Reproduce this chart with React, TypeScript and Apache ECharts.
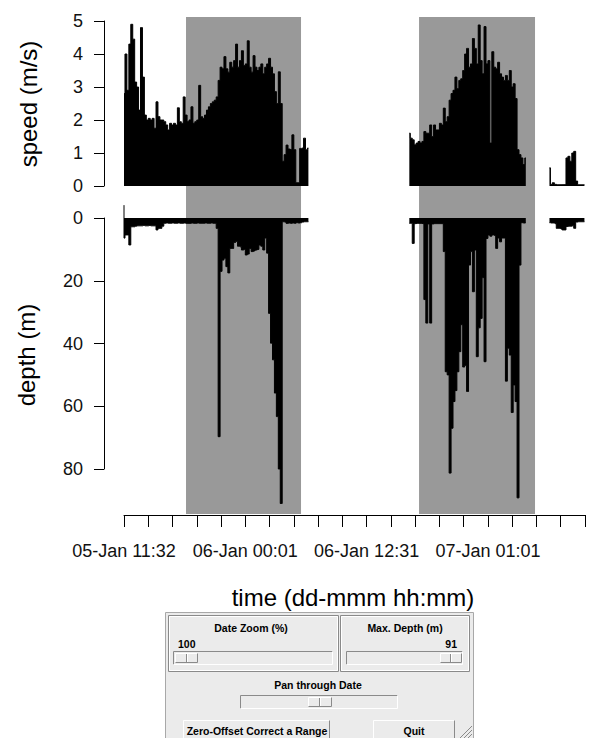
import React, { useEffect, useRef } from 'react';
import * as echarts from 'echarts';

// ---------- data ----------
const TIME_LABELS = ['05-Jan 11:32', '06-Jan 00:01', '06-Jan 12:31', '07-Jan 01:01'];
const TICK_STEP_HOURS = 2.5;
const TICK_COUNT = 20;
const LABEL_EVERY = 5;

const SAMPLE_STEP_HOURS = 0.2;
const SEGMENT_START_HOURS = [0, 29.4, 43.84];
const NIGHT_BANDS = [
  [6.39, 18.24],
  [30.4, 42.35],
];

const SPEED_SEG1 = [
  2.8, 4.0, 2.9, 4.3, 4.9, 4.45, 3.15, 3.0, 2.3, 4.8,
  3.3, 2.15, 2.0, 2.05, 2.0, 2.05, 1.75, 2.55, 2.1, 2.0,
  2.0, 1.95, 1.85, 1.7, 1.9, 1.85, 1.9, 1.85, 2.37, 1.95,
  1.9, 2.7, 2.15, 1.95, 2.0, 2.4, 1.9, 1.95, 2.0, 3.05,
  2.1, 2.05, 2.15, 2.3, 2.4, 2.5, 2.55, 2.6, 2.7, 3.2,
  3.6, 3.55, 3.92, 3.55, 3.45, 3.75, 3.6, 3.8, 4.3, 3.6,
  3.8, 4.1, 3.65, 3.7, 4.4, 3.6, 3.45, 3.95, 3.6, 3.5,
  3.6, 3.7, 3.4, 3.6, 3.7, 3.87, 3.6, 3.4, 2.86, 2.5,
  3.46, 2.5, 0.75, 0.95, 1.24, 1.12, 1.1, 1.55, 1.1, 0.1,
  0.1, 1.14, 1.15, 1.45, 1.1, 1.15,
];
const SPEED_SEG2 = [
  1.6, 1.45, 1.4, 1.25, 1.3, 1.35, 1.3, 1.35, 1.65, 1.6,
  1.6, 1.85, 1.5, 1.85, 1.7, 1.7, 1.9, 1.85, 2.36, 1.95,
  2.1, 2.6, 2.8, 2.9, 3.3, 2.95, 3.2, 3.25, 3.5, 4.0,
  4.17, 3.6, 3.7, 4.47, 4.17, 3.7, 4.88, 3.8, 3.4, 4.83,
  3.7, 3.8, 1.3, 4.07, 3.6, 3.55, 3.75, 3.4, 3.3, 3.2,
  3.35, 3.2, 3.5, 3.0, 3.1, 2.65, 1.1, 0.95, 0.85, 0.65,
  0.85,
];
const SPEED_SEG3 = [
  0.55, 0.05, 0.1, 0.05, 0.04, 0.04, 0.04, 0.04, 0.04, 0.85,
  0.9, 0.75, 1.0, 1.05, 0.15, 0.04, 0.04, 0.04, 0.04,
];

const DEPTH_SEG1 = [
  6.4, 5.4, 5.4, 8.6, 2.8, 2.8, 2.6, 2.5, 2.5, 2.5,
  2.4, 2.5, 2.5, 2.4, 2.5, 2.5, 2.5, 3.8, 3.3, 3.3,
  2.6, 1.7, 1.6, 1.7, 1.7, 1.6, 1.7, 1.7, 1.6, 1.7,
  1.7, 1.6, 1.7, 1.7, 1.7, 1.6, 1.7, 1.7, 1.6, 1.7,
  1.7, 1.7, 1.6, 1.7, 1.7, 1.6, 1.7, 1.7, 3.3, 69.7,
  17.0, 13.4, 12.8, 15.5, 17.5, 9.7, 9.7, 7.8, 7.5, 9.0,
  9.2, 10.2, 10.0, 11.8, 11.5, 9.7, 10.7, 10.5, 10.2, 10.0,
  8.6, 9.0, 10.2, 6.4, 11.2, 30.4, 39.9, 45.2, 55.8, 63.3,
  80.0, 91.0, 1.2, 1.3, 1.7, 1.6, 1.7, 1.6, 1.7, 1.5,
  1.6, 1.5, 1.3, 1.2, 1.2, 1.2,
];
const DEPTH_SEG2 = [
  1.7, 1.7, 8.1, 1.8, 1.7, 1.7, 1.7, 1.8, 26, 33.5,
  1.9, 33.5, 1.9, 1.8, 1.8, 1.8, 1.8, 1.8, 10.7, 49,
  50, 81.3, 67, 58.5, 55, 49, 42.6, 34, 47.5, 47,
  55.3, 15, 10.7, 23.5, 10.2, 44.2, 35, 32, 19, 45.8,
  6.5, 5.4, 5.8, 5.4, 5.6, 9.7, 6.4, 7.6, 6.4, 6.4,
  52, 41.5, 43.7, 62, 53.2, 58.5, 89.2, 15, 1.5, 1.6,
  1.5,
];
const DEPTH_SEG3 = [
  1.5, 1.6, 1.6, 1.8, 3.3, 3.3, 3.5, 3.8, 3.8, 2.7,
  2.6, 2.6, 2.5, 3.3, 1.3, 1.2, 1.2, 1.2, 1.2,
];
// the record's first reading lies above the surface (negative depth)
const DEPTH_ABOVE_SURFACE = -4.1;

const SPEED_AXIS = { min: 0, max: 5, step: 1 };
const DEPTH_AXIS = { min: 0, max: 80, step: 20 };

const DATE_ZOOM_VALUE = '100';
const MAX_DEPTH_VALUE = '91';

// ---------- layout ----------
const CHART_W = 590;
const CHART_H = 738;
const PLOT_LEFT = 104;
const FIRST_TICK_X = 124;
const LAST_TICK_X = 585;
const AXIS_Y = 515;
const PX_PER_HOUR = (LAST_TICK_X - FIRST_TICK_X) / ((TICK_COUNT - 1) * TICK_STEP_HOURS);
const X_MIN = (PLOT_LEFT - FIRST_TICK_X) / PX_PER_HOUR;
const X_MAX = (CHART_W - FIRST_TICK_X) / PX_PER_HOUR;

const SPEED_TOP = 21;
const SPEED_BOTTOM = 186;
const DEPTH_ZERO_Y = 218;
const DEPTH_80_Y = 469;
const DEPTH_PX_PER_M = (DEPTH_80_Y - DEPTH_ZERO_Y) / 80;
const DEPTH_DATA_TOP = 193;
const DEPTH_DATA_BOTTOM = 514;
const SHADE_TOP = 17;
const SHADE_BOTTOM = 514;

const FONT = '"Liberation Sans", Arial, Helvetica, sans-serif';
const PANEL_BG = '#ebebeb';
const LIGHT = '#ffffff';
const DARK = '#8a8a8a';

function segmentPoints(seg: number[], k: number) {
  return seg.map((v, i) => [SEGMENT_START_HOURS[k] + i * SAMPLE_STEP_HOURS, v]);
}

function bevel(x: number, y: number, w: number, h: number, raised: boolean, fill = PANEL_BG) {
  const tl = raised ? LIGHT : DARK;
  const br = raised ? DARK : LIGHT;
  return [
    { type: 'rect', shape: { x, y, width: w, height: h }, style: { fill }, silent: true },
    {
      type: 'polyline',
      shape: { points: [[x + 0.5, y + h - 0.5], [x + 0.5, y + 0.5], [x + w - 0.5, y + 0.5]] },
      style: { stroke: tl, lineWidth: 1, fill: null },
      silent: true,
    },
    {
      type: 'polyline',
      shape: { points: [[x + 0.5, y + h - 0.5], [x + w - 0.5, y + h - 0.5], [x + w - 0.5, y + 0.5]] },
      style: { stroke: br, lineWidth: 1, fill: null },
      silent: true,
    },
  ];
}

function slider(x: number, y: number, w: number, h: number, thumbX: number, thumbW: number) {
  const els: any[] = [];
  els.push(...bevel(x, y, w, h, false));
  els.push(...bevel(thumbX, y + 2, thumbW, h - 4, true));
  const mid = Math.round(thumbX + thumbW / 2) + 0.5;
  els.push({ type: 'line', shape: { x1: mid - 1, y1: y + 3, x2: mid - 1, y2: y + h - 3 }, style: { stroke: DARK, lineWidth: 1 }, silent: true });
  els.push({ type: 'line', shape: { x1: mid, y1: y + 3, x2: mid, y2: y + h - 3 }, style: { stroke: LIGHT, lineWidth: 1 }, silent: true });
  return els;
}

function label(text: string, x: number, y: number, align = 'center') {
  return {
    type: 'text',
    x,
    y,
    style: { text, font: `bold 10.5px ${FONT}`, fill: '#000', align, verticalAlign: 'middle' },
    silent: true,
  };
}

function frame(x: number, y: number, w: number, h: number) {
  return [
    { type: 'rect', shape: { x: x + 0.5, y: y + 0.5, width: w, height: h }, style: { fill: PANEL_BG, stroke: DARK, lineWidth: 1 }, silent: true },
    { type: 'rect', shape: { x: x + 1.5, y: y + 1.5, width: w - 2, height: h - 2 }, style: { fill: null, stroke: LIGHT, lineWidth: 1 }, silent: true },
  ];
}

function buildPanel() {
  const els: any[] = [];
  els.push({ type: 'rect', shape: { x: 165.5, y: 612.5, width: 308, height: 130 }, style: { fill: PANEL_BG, stroke: '#a8a8a8', lineWidth: 1 }, silent: true });
  els.push(...frame(168, 615, 170, 56));
  els.push(label('Date Zoom (%)', 251, 628));
  els.push(label(DATE_ZOOM_VALUE, 178, 644, 'left'));
  els.push(...slider(173, 651, 160, 14, 175, 23));
  els.push(...frame(340, 615, 129, 56));
  els.push(label('Max. Depth (m)', 405, 628));
  els.push(label(MAX_DEPTH_VALUE, 457, 644, 'right'));
  els.push(...slider(346, 651, 117, 14, 440, 22));
  els.push(label('Pan through Date', 318, 685));
  els.push(...slider(240, 695, 158, 14, 308, 24));
  els.push(...bevel(183, 720, 147, 26, true));
  els.push(label('Zero-Offset Correct a Range', 257, 731));
  els.push(...bevel(373, 720, 82, 26, true));
  els.push(label('Quit', 414, 731));
  [[460, 738, 472, 726], [464, 738, 472, 730], [468, 738, 472, 734]].forEach(([x1, y1, x2, y2]) => {
    els.push({ type: 'line', shape: { x1, y1, x2, y2 }, style: { stroke: '#8a8a8a', lineWidth: 1 }, silent: true });
  });
  return els;
}

export default function App() {
  const ref = useRef<HTMLDivElement>(null);

  useEffect(() => {
    if (!ref.current) return;
    const chart = echarts.init(ref.current, null, { renderer: 'svg' });

    const speedSegs = [SPEED_SEG1, SPEED_SEG2, SPEED_SEG3].map(segmentPoints);
    const depthSegs = [DEPTH_SEG1, DEPTH_SEG2, DEPTH_SEG3].map(segmentPoints);
    depthSegs[0] = [[SEGMENT_START_HOURS[0], DEPTH_ABOVE_SURFACE], ...depthSegs[0]];

    const hiddenX = (gridIndex: number) => ({ type: 'value', gridIndex, min: X_MIN, max: X_MAX, show: false });
    const axisText = { color: '#111', fontFamily: FONT, fontSize: 18 };
    const trace = (name: string, axisIndex: number, data: any[]) => ({
      type: 'line',
      name,
      xAxisIndex: axisIndex,
      yAxisIndex: axisIndex,
      data,
      step: 'middle',
      symbol: 'none',
      clip: false,
      lineStyle: { color: '#000', width: 1 },
      areaStyle: { color: '#000', opacity: 1, origin: 'auto' },
      silent: true,
      z: 3,
    });

    const option: any = {
      animation: false,
      backgroundColor: '#ffffff',
      grid: [
        { left: PLOT_LEFT, right: 0, top: SHADE_TOP, height: SHADE_BOTTOM - SHADE_TOP },
        { left: PLOT_LEFT, right: 0, top: SPEED_TOP, height: SPEED_BOTTOM - SPEED_TOP },
        { left: PLOT_LEFT, right: 0, top: DEPTH_DATA_TOP, height: DEPTH_DATA_BOTTOM - DEPTH_DATA_TOP },
        { left: PLOT_LEFT, right: 0, top: DEPTH_ZERO_Y, height: DEPTH_80_Y - DEPTH_ZERO_Y },
        { left: FIRST_TICK_X, right: CHART_W - LAST_TICK_X, top: 400, height: AXIS_Y - 400 },
      ],
      xAxis: [
        hiddenX(0),
        hiddenX(1),
        hiddenX(2),
        hiddenX(3),
        {
          type: 'value',
          gridIndex: 4,
          position: 'bottom',
          min: 0,
          max: (TICK_COUNT - 1) * TICK_STEP_HOURS,
          interval: TICK_STEP_HOURS,
          splitLine: { show: false },
          axisLine: { show: true, onZero: false, lineStyle: { color: '#000', width: 1 } },
          axisTick: { show: true, length: 12, lineStyle: { color: '#000', width: 1 } },
          axisLabel: {
            ...axisText,
            margin: 27,
            showMinLabel: true,
            showMaxLabel: true,
            formatter: (v: number) => {
              const i = Math.round(v / TICK_STEP_HOURS);
              if (i % LABEL_EVERY !== 0) return '';
              return TIME_LABELS[i / LABEL_EVERY] ?? '';
            },
          },
        },
      ],
      yAxis: [
        { type: 'value', gridIndex: 0, min: 0, max: 1, show: false },
        {
          type: 'value',
          gridIndex: 1,
          min: SPEED_AXIS.min,
          max: SPEED_AXIS.max,
          interval: SPEED_AXIS.step,
          splitLine: { show: false },
          axisLine: { show: true, onZero: false, lineStyle: { color: '#000', width: 1 } },
          axisTick: { show: true, length: 10, lineStyle: { color: '#000', width: 1 } },
          axisLabel: { ...axisText, margin: 21 },
        },
        {
          type: 'value',
          gridIndex: 2,
          inverse: true,
          min: (DEPTH_DATA_TOP - DEPTH_ZERO_Y) / DEPTH_PX_PER_M,
          max: (DEPTH_DATA_BOTTOM - DEPTH_ZERO_Y) / DEPTH_PX_PER_M,
          show: false,
        },
        {
          type: 'value',
          gridIndex: 3,
          inverse: true,
          min: DEPTH_AXIS.min,
          max: DEPTH_AXIS.max,
          interval: DEPTH_AXIS.step,
          splitLine: { show: false },
          axisLine: { show: true, onZero: false, lineStyle: { color: '#000', width: 1 } },
          axisTick: { show: true, length: 10, lineStyle: { color: '#000', width: 1 } },
          axisLabel: { ...axisText, margin: 21 },
        },
        { type: 'value', gridIndex: 4, show: false },
      ],
      series: [
        {
          type: 'line',
          xAxisIndex: 0,
          yAxisIndex: 0,
          data: [[X_MIN, 0]],
          symbol: 'none',
          lineStyle: { opacity: 0 },
          silent: true,
          z: 1,
          markArea: {
            silent: true,
            label: { show: false },
            itemStyle: { color: '#999999', opacity: 1 },
            data: NIGHT_BANDS.map(([a, b]) => [{ xAxis: a }, { xAxis: b }]),
          },
        },
        ...speedSegs.map((d, k) => trace(`speed ${k + 1}`, 1, d)),
        ...depthSegs.map((d, k) => trace(`depth ${k + 1}`, 2, d)),
      ],
      graphic: {
        elements: [
          {
            type: 'text',
            x: 28,
            y: 104,
            rotation: Math.PI / 2,
            style: { text: 'speed (m/s)', font: `24px ${FONT}`, fill: '#000', align: 'center', verticalAlign: 'middle' },
            silent: true,
          },
          {
            type: 'text',
            x: 26,
            y: 355,
            rotation: Math.PI / 2,
            style: { text: 'depth (m)', font: `24px ${FONT}`, fill: '#000', align: 'center', verticalAlign: 'middle' },
            silent: true,
          },
          {
            type: 'text',
            x: 353,
            y: 597,
            style: { text: 'time (dd-mmm hh:mm)', font: `24px ${FONT}`, fill: '#000', align: 'center', verticalAlign: 'middle' },
            silent: true,
          },
          ...buildPanel(),
        ],
      },
    };

    chart.setOption(option);
    return () => chart.dispose();
  }, []);

  return (
    <div
      ref={ref}
      style={{ position: 'absolute', left: 0, top: 0, width: CHART_W, height: CHART_H }}
    />
  );
}
